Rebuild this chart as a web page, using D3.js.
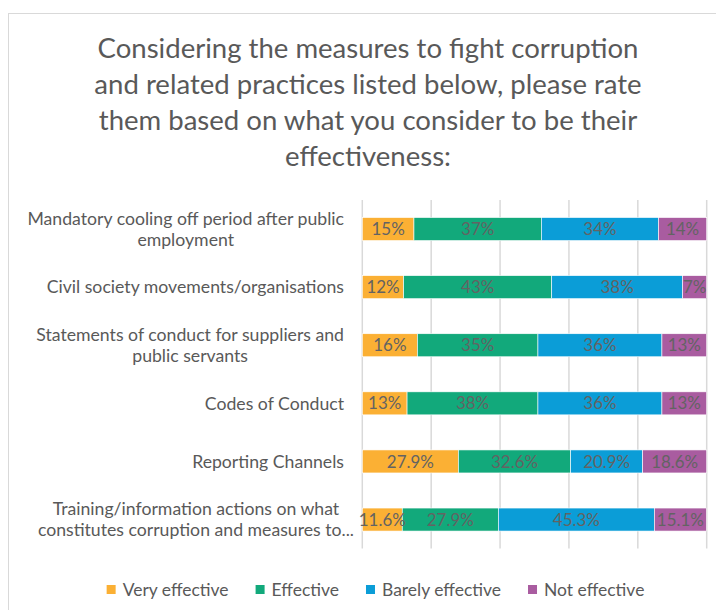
<!DOCTYPE html>
<html>
<head>
<meta charset="utf-8">
<script src="https://cdn.jsdelivr.net/npm/d3@7"></script>
<style>
  html, body { margin: 0; padding: 0; background: #ffffff; }
  svg { display: block; }
</style>
</head>
<body>
<svg id="chart" width="716" height="610"></svg>
<script>
// ---------- DATA ----------
const titleLines = [
  "Considering the measures to fight corruption",
  "and related practices listed below, please rate",
  "them based on what you consider to be their",
  "effectiveness:"
];
const categories = [
  ["Mandatory cooling off period after public", "employment"],
  ["Civil society movements/organisations"],
  ["Statements of conduct for suppliers and", "public servants"],
  ["Codes of Conduct"],
  ["Reporting Channels"],
  ["Training/information actions on what", "constitutes corruption and measures to..."]
];
const seriesNames = ["Very effective", "Effective", "Barely effective", "Not effective"];
const veryEffective   = [15, 12, 16, 13, 27.9, 11.6];
const effective       = [37, 43, 35, 38, 32.6, 27.9];
const barelyEffective = [34, 38, 36, 36, 20.9, 45.3];
const notEffective    = [14,  7, 13, 13, 18.6, 15.1];
const labelDecimals   = [0, 0, 0, 0, 1, 1];
const xTicks = [0, 20, 40, 60, 80, 100];

// ---------- STYLE ----------
const colors = ["#FBB034", "#12A97B", "#0B9DD7", "#A95CA0"];
const FONT = "Lato, 'Open Sans', sans-serif";
const textGrey = "#595959";

const svg = d3.select("#chart");

function measure(txt, size) {
  const t = svg.append("text").attr("font-family", FONT).attr("font-size", size).text(txt);
  const w = t.node().getComputedTextLength();
  t.remove();
  return w;
}
// font sizes fitted to the reference's text widths
const titleSize = 24 * 541 / measure(titleLines[0], 24);
const catSize = 15 * 317 / measure(categories[0][0], 15);
const legendSize = 15 * 106 / measure("Very effective", 15);
const dataSize = 16 * 47 / measure("27.9%", 16);

// chart frame (cropped border of the original)
svg.append("rect")
  .attr("x", 8.5).attr("y", 13.5)
  .attr("width", 760).attr("height", 640)
  .attr("fill", "none").attr("stroke", "#d9d9d9").attr("stroke-width", 1);

// ---------- TITLE ----------
svg.append("g").selectAll("text")
  .data(titleLines)
  .join("text")
  .attr("x", 368)
  .attr("y", (d, i) => 58 + i * 36)
  .attr("text-anchor", "middle")
  .attr("font-family", FONT)
  .attr("font-size", titleSize)
  .attr("fill", textGrey)
  .text(d => d);

// ---------- SCALES ----------
const x = d3.scaleLinear().domain([0, 100]).range([362.3, 706.7]);
const y = d3.scaleBand()
  .domain(d3.range(categories.length))
  .range([200, 548.6])
  .paddingInner(0.604)
  .paddingOuter(0.302);

// gridlines
svg.append("g").selectAll("line")
  .data(xTicks)
  .join("line")
  .attr("x1", d => x(d)).attr("x2", d => x(d))
  .attr("y1", 200).attr("y2", 548.6)
  .attr("stroke", "#d9d9d9").attr("stroke-width", 1.5);

// ---------- STACK ----------
const table = categories.map((c, i) => ({
  idx: i,
  "Very effective": veryEffective[i],
  "Effective": effective[i],
  "Barely effective": barelyEffective[i],
  "Not effective": notEffective[i]
}));
const stacked = d3.stack().keys(seriesNames)(table);

const layers = svg.append("g").selectAll("g")
  .data(stacked)
  .join("g")
  .attr("fill", (d, i) => colors[i]);

layers.selectAll("rect")
  .data(d => d)
  .join("rect")
  .attr("x", d => x(d[0]))
  .attr("y", d => y(d.data.idx))
  .attr("width", d => x(d[1]) - x(d[0]))
  .attr("height", y.bandwidth())
  .attr("stroke", "#ffffff")
  .attr("stroke-width", 0.6);

// data labels
const labelG = svg.append("g");
stacked.forEach((layer) => {
  labelG.selectAll(null)
    .data(layer)
    .join("text")
    .attr("x", d => (x(d[0]) + x(d[1])) / 2)
    .attr("y", d => y(d.data.idx) + y.bandwidth() / 2)
    .attr("dy", "0.36em")
    .attr("text-anchor", "middle")
    .attr("font-family", FONT)
    .attr("font-size", dataSize)
    .attr("fill", "#636363")
    .text(d => (d[1] - d[0]).toFixed(labelDecimals[d.data.idx]) + "%");
});

// ---------- CATEGORY LABELS ----------
const labelRight = 344;
const lineGap = 21;
const catG = svg.append("g");
categories.forEach((lines, i) => {
  const maxW = d3.max(lines, l => measure(l, catSize));
  const cx = labelRight - maxW / 2 + (lines[lines.length - 1].endsWith("...") ? 10 : 0);
  const cy = y(i) + y.bandwidth() / 2;
  lines.forEach((l, j) => {
    catG.append("text")
      .attr("x", cx)
      .attr("y", cy + (j - (lines.length - 1) / 2) * lineGap)
      .attr("dy", "0.35em")
      .attr("text-anchor", "middle")
      .attr("font-family", FONT)
      .attr("font-size", catSize)
      .attr("fill", textGrey)
      .text(l);
  });
});

// ---------- LEGEND ----------
const sq = 9, sqGap = 7, itemGap = 27;
const widths = seriesNames.map(s => measure(s, legendSize));
const total = d3.sum(widths) + seriesNames.length * (sq + sqGap) + (seriesNames.length - 1) * itemGap;
let lx = 375.5 - total / 2;
const legend = svg.append("g");
seriesNames.forEach((s, i) => {
  legend.append("rect")
    .attr("x", lx).attr("y", 585)
    .attr("width", sq).attr("height", sq)
    .attr("fill", colors[i]);
  legend.append("text")
    .attr("x", lx + sq + sqGap)
    .attr("y", 589.5)
    .attr("dy", "0.36em")
    .attr("font-family", FONT)
    .attr("font-size", legendSize)
    .attr("fill", textGrey)
    .text(s);
  lx += sq + sqGap + widths[i] + itemGap;
});
</script>
</body>
</html>
